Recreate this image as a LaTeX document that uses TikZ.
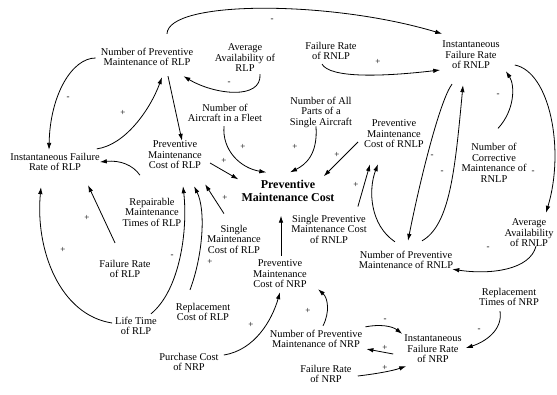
\documentclass[tikz,border=0pt]{standalone}
\usepackage{fontspec}
\setmainfont{Liberation Serif}
\usetikzlibrary{arrows.meta}
\newcommand{\varfont}{\fontsize{10.4}{10.5}\selectfont}
\newcommand{\signfont}{\fontsize{9}{9}\selectfont}
\begin{document}
\begin{tikzpicture}[ x=1pt, y=-1pt,
	var/.style={ align=center, inner sep=1pt, font=\varfont },
	sgn/.style={ inner sep=0pt, font=\signfont },
	lnk/.style={ line width=0.8pt, -{Latex[length=7pt,width=4.5pt]} } ]
	  \useasboundingbox (0,0) rectangle (557,394);

	  \node [ var ] (npmrlp) at (147,57) {Number of Preventive\\Maintenance of RLP};
	  \node [ var ] (aarlp) at (245,58) {Average\\Availability of\\RLP};
	  \node [ var ] (frrnlp) at (331,51) {Failure Rate\\of RNLP};
	  \node [ var ] (ifrrnlp) at (471,55) {Instantaneous\\Failure Rate\\of RNLP};
	  \node [ var ] (naircraft) at (225,113) {Number of\\Aircraft in a Fleet};
	  \node [ var ] (nparts) at (321,112) {Number of All\\Parts of a\\Single Aircraft};
	  \node [ var ] (pmcrnlp) at (394,134) {Preventive\\Maintenance\\Cost of RNLP};
	  \node [ var ] (ifrrlp) at (55,162) {Instantaneous Failure\\Rate of RLP};
	  \node [ var ] (pmcrlp) at (175,155) {Preventive\\Maintenance\\Cost of RLP};
	  \node [ var, font=\fontsize{12}{12.5}\selectfont\bfseries ] (pmc) at (288,191) {Preventive\\Maintenance Cost};
	  \node [ var ] (rmtrlp) at (152,212) {Repairable\\Maintenance\\Times of RLP};
	  \node [ var ] (smcrlp) at (234,239) {Single\\Maintenance\\Cost of RLP};
	  \node [ var ] (spmcrnlp) at (329,229) {Single Preventive\\Maintenance Cost\\of RNLP};
	  \node [ var ] (ncmrnlp) at (494,163) {Number of\\Corrective\\Maintenance of\\RNLP};
	  \node [ var ] (aarnlp) at (529,233) {Average\\Availability\\of RNLP};
	  \node [ var ] (npmrnlp) at (406,260) {Number of Preventive\\Maintenance of RNLP};
	  \node [ var ] (pmcnrp) at (280,274) {Preventive\\Maintenance\\Cost of NRP};
	  \node [ var ] (rcrlp) at (203,312) {Replacement\\Cost of RLP};
	  \node [ var ] (ltrlp) at (136,326) {Life Time\\of RLP};
	  \node [ var ] (frrlp) at (125,269) {Failure Rate\\of RLP};
	  \node [ var ] (pcnrp) at (189,362) {Purchase Cost\\of NRP};
	  \node [ var ] (npmnrp) at (316,339) {Number of Preventive\\Maintenance of NRP};
	  \node [ var ] (ifrnrp) at (433,349) {Instantaneous\\Failure Rate\\of NRP};
	  \node [ var ] (frnrp) at (326,374) {Failure Rate\\of NRP};
	  \node [ var ] (rtnrp) at (509,297) {Replacement\\Times of NRP};

	  \draw [ lnk ] ([shift={(20,-13)}]npmrlp.north) .. controls (168,0) and (330,0) .. ([shift={(1,-6)}]ifrrnlp.north west);
	  \draw [ lnk ] ([shift={(15,1)}]aarlp.south) .. controls (262,100) and (215,95) .. ([shift={(-11,9)}]npmrlp.south east);
	  \draw [ lnk ] ([shift={(-4,1)}]npmrlp.west) .. controls (72,58) and (50,95) .. ([shift={(-6,-2)}]ifrrlp.north);
	  \draw [ lnk ] ([shift={(-4,-3)}]ifrrlp.north east) .. controls (125,145) and (150,110) .. ([shift={(15,10)}]npmrlp.south);
	  \draw [ lnk ] ([shift={(21,9)}]npmrlp.south) -- ([shift={(7,1)}]pmcrlp.north);
	  \draw [ lnk ] ([shift={(-1,3)}]naircraft.south) .. controls (222,150) and (240,168) .. ([shift={(26,-7)}]pmc.north west);
	  \draw [ lnk ] ([shift={(-5,-2)}]nparts.south) .. controls (318,155) and (305,165) .. ([shift={(2,-7)}]pmc.north);
	  \draw [ lnk ] ([shift={(-5,8)}]pmcrnlp.west) -- ([shift={(-12,-3)}]pmc.north east);
	  \draw [ lnk ] ([shift={(7,8)}]pmcrlp.east) -- ([shift={(-2,0)}]pmc.north west);
	  \draw [ lnk ] ([shift={(-7,5)}]pmcrlp.south west) .. controls (133,165) and (120,160) .. ([shift={(-1,0)}]ifrrlp.east);
	  \draw [ lnk ] ([shift={(-10,-10)}]smcrlp.north) -- ([shift={(2,14)}]pmcrlp.south east);
	  \draw [ lnk ] ([shift={(-7,-2)}]ltrlp.north east) .. controls (180,290) and (188,230) .. ([shift={(8,16)}]pmcrlp.south);
	  \draw [ lnk ] ([shift={(-13,-12)}]rcrlp.north) .. controls (203,255) and (206,210) .. ([shift={(-9,16)}]pmcrlp.south east);
	  \draw [ lnk ] ([shift={(-10,-16)}]frrlp.north) -- ([shift={(33,13)}]ifrrlp.south);
	  \draw [ lnk ] ([shift={(-2,-3)}]ltrlp.west) .. controls (60,315) and (35,250) .. ([shift={(-14,15)}]ifrrlp.south);
	  \draw [ lnk ] ([shift={(1,-3)}]pmcnrp.north) -- ([shift={(-7,13)}]pmc.south);
	  \draw [ lnk ] ([shift={(-10,-7)}]spmcrnlp.north east) -- ([shift={(7,15)}]pmcrnlp.south west);
	  \draw [ lnk ] ([shift={(-11,-8)}]npmrnlp.north) .. controls (370,225) and (368,190) .. ([shift={(-16,15)}]pmcrnlp.south);
	  \draw [ lnk ] ([shift={(-19,14)}]ifrrnlp.south) .. controls (440,100) and (420,180) .. ([shift={(2,-9)}]npmrnlp.north);
	  \draw [ lnk ] ([shift={(16,-9)}]npmrnlp.north) .. controls (450,225) and (455,170) .. ([shift={(-8,15)}]ifrrnlp.south);
	  \draw [ lnk ] ([shift={(4,-14)}]ncmrnlp.north) .. controls (515,110) and (515,85) .. ([shift={(5,1)}]ifrrnlp.south east);
	  \draw [ lnk ] ([shift={(14,10)}]ifrrnlp.east) .. controls (550,72) and (565,150) .. ([shift={(17,-5)}]aarnlp.north);
	  \draw [ lnk ] ([shift={(7,-2)}]aarnlp.south) .. controls (530,270) and (490,275) .. ([shift={(-2,-1)}]npmrnlp.south east);
	  \draw [ lnk ] ([shift={(-9,3)}]frrnlp.south) .. controls (330,78) and (380,77) .. ([shift={(-1,15)}]ifrrnlp.west);
	  \draw [ lnk ] ([shift={(7,-3)}]npmnrp.north) .. controls (330,312) and (328,298) .. ([shift={(10,0)}]pmcnrp.south east);
	  \draw [ lnk ] ([shift={(4,-7)}]pcnrp.east) .. controls (255,350) and (272,320) .. ([shift={(0,3)}]pmcnrp.south);
	  \draw [ lnk ] ([shift={(2,-2)}]npmnrp.north east) .. controls (380,324) and (392,326) .. ([shift={(-1,0)}]ifrnrp.north west);
	  \draw [ lnk ] ([shift={(-10,5)}]ifrnrp.west) -- ([shift={(3,10)}]npmnrp.east);
	  \draw [ lnk ] ([shift={(5,2)}]frnrp.east) .. controls (375,374) and (392,371) .. ([shift={(3,2)}]ifrnrp.south west);
	  \draw [ lnk ] ([shift={(-9,4)}]rtnrp.south) .. controls (503,330) and (485,342) .. ([shift={(3,-1)}]ifrnrp.east);

	  \node [ sgn ] (m1) at (272,20) {-};
	  \node [ sgn ] (m2) at (229,83) {-};
	  \node [ sgn ] (m3) at (68,98) {-};
	  \node [ sgn ] (p4) at (123,113) {+};
	  \node [ sgn ] (p6) at (243,147) {+};
	  \node [ sgn ] (p7) at (295,147) {+};
	  \node [ sgn ] (p8) at (337,155) {+};
	  \node [ sgn ] (p9) at (224,161) {+};
	  \node [ sgn ] (p11) at (225,198) {+};
	  \node [ sgn ] (m12) at (172,256) {-};
	  \node [ sgn ] (p12) at (210,262) {+};
	  \node [ sgn ] (p13) at (87,218) {+};
	  \node [ sgn ] (p14) at (63,250) {+};
	  \node [ sgn ] (p16) at (356,185) {+};
	  \node [ sgn ] (m18) at (432,156) {-};
	  \node [ sgn ] (m19) at (442,172) {-};
	  \node [ sgn ] (m20) at (498,95) {-};
	  \node [ sgn ] (m21) at (533,172) {-};
	  \node [ sgn ] (m22) at (488,248) {-};
	  \node [ sgn ] (p23) at (378,62) {+};
	  \node [ sgn ] (p24) at (308,311) {+};
	  \node [ sgn ] (p25) at (251,325) {+};
	  \node [ sgn ] (m26) at (385,320) {-};
	  \node [ sgn ] (p27) at (385,348) {+};
	  \node [ sgn ] (p28) at (385,368) {+};
	  \node [ sgn ] (m29) at (479,330) {-};
	\end{tikzpicture}
\end{document}
